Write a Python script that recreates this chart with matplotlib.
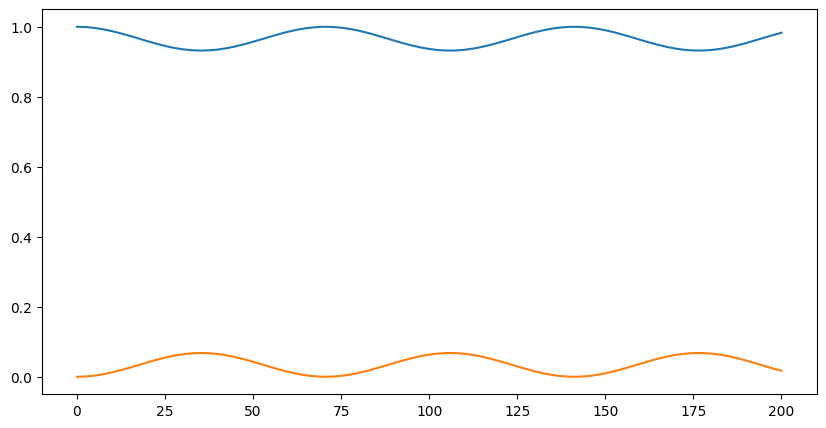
import numpy as np
import matplotlib
matplotlib.use("Agg")
import matplotlib.pyplot as plt

# sample times (every 2.5 units)
times = np.arange(0, 200.01, 2.5)

# upper curve (blue)
upper = [1.0000, 0.9992, 0.9967, 0.9927, 0.9874, 0.9810, 0.9740, 0.9665, 0.9589,
         0.9518, 0.9453, 0.9398, 0.9357, 0.9331, 0.9320, 0.9327, 0.9349, 0.9388,
         0.9439, 0.9502, 0.9572, 0.9646, 0.9722, 0.9794, 0.9860, 0.9915, 0.9959,
         0.9987, 1.0000, 0.9995, 0.9974, 0.9938, 0.9888, 0.9827, 0.9757, 0.9683,
         0.9607, 0.9534, 0.9468, 0.9411, 0.9366, 0.9335, 0.9321, 0.9323, 0.9342,
         0.9377, 0.9426, 0.9486, 0.9555, 0.9628, 0.9704, 0.9777, 0.9845, 0.9903,
         0.9950, 0.9982, 0.9998, 0.9998, 0.9981, 0.9948, 0.9901, 0.9842, 0.9774,
         0.9701, 0.9625, 0.9551, 0.9483, 0.9424, 0.9375, 0.9341, 0.9323, 0.9321,
         0.9336, 0.9367, 0.9413, 0.9470, 0.9537, 0.9610, 0.9686, 0.9760, 0.9829]

# lower curve (orange)
lower = [0.0000, 0.0008, 0.0033, 0.0073, 0.0126, 0.0190, 0.0260, 0.0335, 0.0411,
         0.0482, 0.0547, 0.0602, 0.0643, 0.0669, 0.0680, 0.0673, 0.0651, 0.0612,
         0.0561, 0.0498, 0.0428, 0.0354, 0.0278, 0.0206, 0.0140, 0.0085, 0.0041,
         0.0013, 0.0000, 0.0005, 0.0026, 0.0062, 0.0112, 0.0173, 0.0243, 0.0317,
         0.0393, 0.0466, 0.0532, 0.0589, 0.0634, 0.0665, 0.0679, 0.0677, 0.0658,
         0.0623, 0.0574, 0.0514, 0.0445, 0.0372, 0.0296, 0.0223, 0.0155, 0.0097,
         0.0050, 0.0018, 0.0002, 0.0002, 0.0019, 0.0052, 0.0099, 0.0158, 0.0226,
         0.0299, 0.0375, 0.0449, 0.0517, 0.0576, 0.0625, 0.0659, 0.0677, 0.0679,
         0.0664, 0.0633, 0.0587, 0.0530, 0.0463, 0.0390, 0.0314, 0.0240, 0.0171]

fig, ax = plt.subplots(figsize=(10, 5))
ax.plot(times, upper, color="#1f77b4")
ax.plot(times, lower, color="#ff7f0e")
fig.savefig("out.png", dpi=100, bbox_inches="tight")
